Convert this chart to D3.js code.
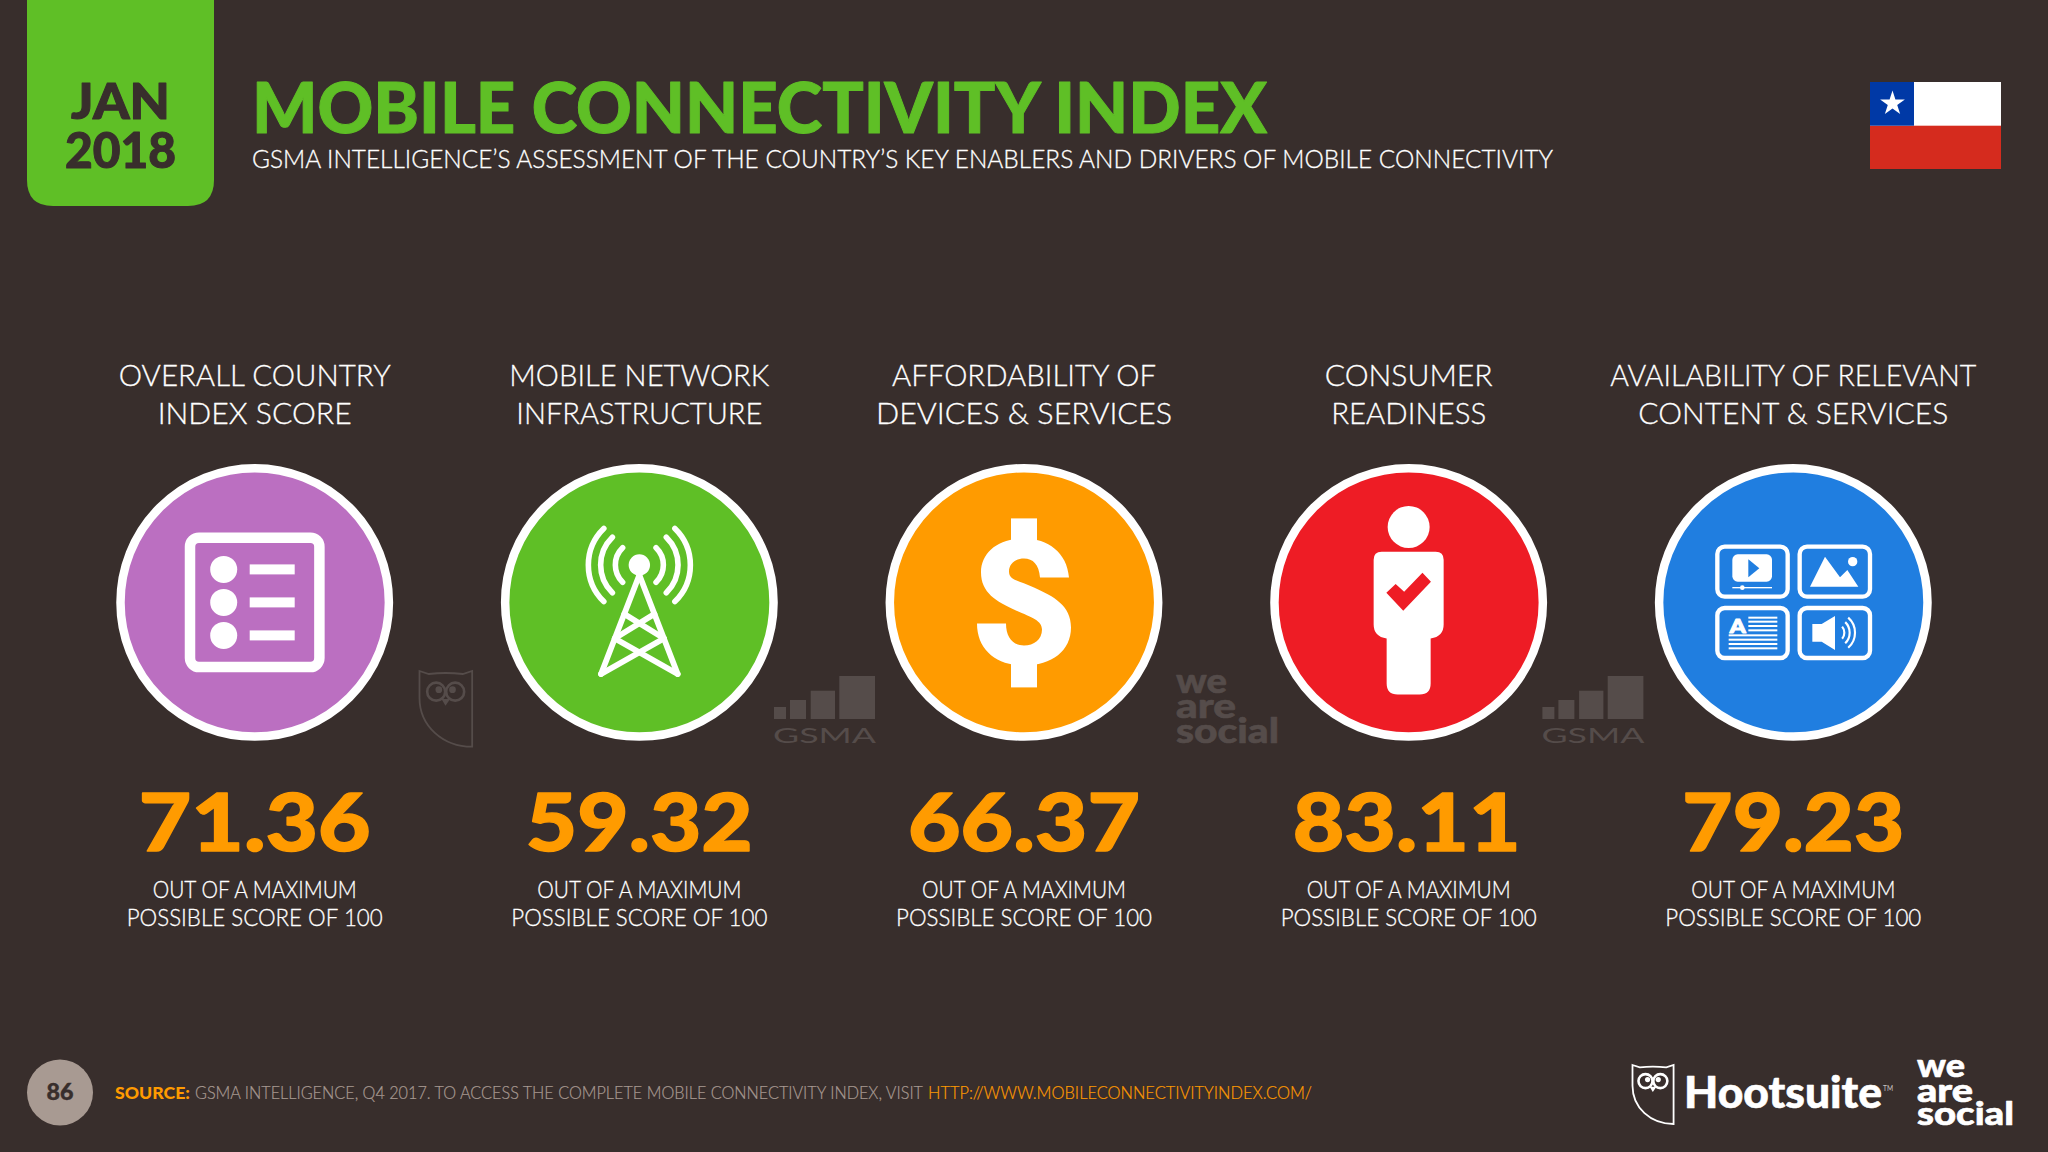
<!DOCTYPE html>
<html><head><meta charset="utf-8">
<script src="https://cdn.jsdelivr.net/npm/d3@7/dist/d3.min.js"></script>
<style>html,body{margin:0;padding:0;background:#382e2c}svg{display:block}text{font-family:Lato,sans-serif}</style>
</head><body><svg id="c" width="2048" height="1152"></svg>
<script>
const categories=["overall","network","afford","consumer","content"];
const headingLine1=["OVERALL COUNTRY","MOBILE NETWORK","AFFORDABILITY OF","CONSUMER","AVAILABILITY OF RELEVANT"];
const headingLine2=["INDEX SCORE","INFRASTRUCTURE","DEVICES & SERVICES","READINESS","CONTENT & SERVICES"];
const scores=[71.36,59.32,66.37,83.11,79.23];
const fills=["#bb6fc1","#5fbf26","#ff9b00","#ee1c25","#207ee0"];
const BG="#382e2c",ORANGE="#ff9b00",GREEN="#5fbf26",WM="#554c4a",GREY="#a89a92";
const svg=d3.select("#c");
svg.append("rect").attr("width",2048).attr("height",1152).attr("fill",BG);
const x=d3.scalePoint().domain(categories).range([254.7,1793.3]);
const color=d3.scaleOrdinal().domain(categories).range(fills);
const fmt=d3.format(".2f");
const CY=602.4;
function t(g,s,px,py,size,weight,fill,anchor,width,bold){
  const e=g.append("text").attr("x",px).attr("y",py).attr("font-size",size).attr("font-weight",weight).attr("fill",fill).attr("text-anchor",anchor||"start").text(s);
  if(width)e.attr("textLength",width).attr("lengthAdjust","spacingAndGlyphs");
  if(bold)e.attr("stroke",fill).attr("stroke-width",bold).attr("stroke-linejoin","round");
  return e;
}
// header
svg.append("path").attr("fill",GREEN).attr("d","M27,0H214V180Q214,206 188,206H53Q27,206 27,180Z");
t(svg,"JAN",120.5,119,50,900,BG,"middle",99,1);
t(svg,"2018",120.5,168,50,900,BG,"middle",111,1);
t(svg,"MOBILE CONNECTIVITY INDEX",252,133,70,900,GREEN,"start",1015,1);
t(svg,"GSMA INTELLIGENCE’S ASSESSMENT OF THE COUNTRY’S KEY ENABLERS AND DRIVERS OF MOBILE CONNECTIVITY",252,168,25,300,"#fff","start",1301,0.3);
// flag
const flag=svg.append("g");
flag.append("rect").attr("x",1870).attr("y",82).attr("width",131).attr("height",44).attr("fill","#fff");
flag.append("rect").attr("x",1870).attr("y",125.7).attr("width",131).attr("height",43.3).attr("fill","#d52b1e");
flag.append("rect").attr("x",1870).attr("y",82).attr("width",44).attr("height",43.7).attr("fill","#0039a6");
flag.append("path").attr("transform","translate(1892.5,103.5)").attr("fill","#fff").attr("d",d3.symbol(d3.symbolStar,190)());
// columns
const col=svg.selectAll("g.col").data(categories).join("g").attr("class","col");
col.append("circle").attr("cx",d=>x(d)).attr("cy",CY).attr("r",134.2).attr("fill",d=>color(d)).attr("stroke","#fff").attr("stroke-width",8.5);
const headW1=[272,260,264,168,366],headW2=[194,246,296,155,310];
const valueW=[232,227,232,228,222];
const valueShift=[0,0,0,-2,0];
const subW=[204,256];
col.each(function(d,i){
  const g=d3.select(this),px=x(d);
  t(g,headingLine1[i],px,385.5,30,300,"#fff","middle",headW1[i],0.3);
  t(g,headingLine2[i],px,423.5,30,300,"#fff","middle",headW2[i],0.3);
  t(g,fmt(scores[i]),px+valueShift[i],851,80,900,ORANGE,"middle",valueW[i],1.4);
  t(g,"OUT OF A MAXIMUM",px,898,24,300,"#fff","middle",subW[0],0.3);
  t(g,"POSSIBLE SCORE OF 100",px,925.5,24,300,"#fff","middle",subW[1],0.3);
});
function icon(i){return svg.append("g").attr("transform",`translate(${x(categories[i])},${CY})`);}
// 1 list
{const g=icon(0);
 g.append("rect").attr("x",-64.7).attr("y",-64.7).attr("width",129.4).attr("height",129.4).attr("rx",9).attr("fill","none").attr("stroke","#fff").attr("stroke-width",10.5);
 [-33,0,33].forEach(dy=>{g.append("circle").attr("cx",-31).attr("cy",dy).attr("r",13.5).attr("fill","#fff");
  g.append("rect").attr("x",-5).attr("y",dy-5).attr("width",45).attr("height",10).attr("fill","#fff");});
}
// 2 tower
{const g=icon(1);
 const cy=-37.4;
 g.append("circle").attr("cy",cy).attr("r",10.7).attr("fill","#fff");
 [24,38.7,51].forEach(r=>{[0,Math.PI].forEach(off=>{
   const p=d3.path();p.arc(0,0,r,off-0.8,off+0.8);
   g.append("path").attr("transform",`translate(0,${cy})`).attr("fill","none").attr("stroke","#fff").attr("stroke-width",5.6).attr("stroke-linecap","round").attr("d",p.toString());
 });});
 const line=d3.line();
 const half=y=>38.3*(y+27.4)/99;
 const L=y=>[-half(y),y],R=y=>[half(y),y];
 const seg=[[[0,-27.4],L(71.6)],[[0,-27.4],R(71.6)],
  [L(11.6),R(36)],[R(11.6),L(36)],
  [L(36),R(71.6)],[R(36),L(71.6)]];
 seg.forEach(s=>g.append("path").attr("d",line(s)).attr("fill","none").attr("stroke","#fff").attr("stroke-width",5.8).attr("stroke-linecap","round"));
}
// 3 dollar
{const g=icon(2);
 g.append("path").attr("fill","#fff").attr("d","M45,-25C43,-50 24,-64 0,-64C-26,-64 -43,-50 -43,-30C-43,-10 -28,-1 -8,8C8,15 18,18 18,27C18,37 10,43 0,43C-11,43 -18,35 -18,21L-47,21C-47,47 -28,63 0,63C28,63 47,48 47,25C47,3 30,-6 10,-15C-5,-22 -15,-22 -15,-31C-15,-39 -8,-44 0,-44C9,-44 15,-38 16,-25Z");
 g.append("rect").attr("x",-13).attr("y",-84).attr("width",26).attr("height",26).attr("fill","#fff");
 g.append("rect").attr("x",-13).attr("y",59).attr("width",26).attr("height",26).attr("fill","#fff");
}
// 4 person
{const g=icon(3);
 g.append("circle").attr("cy",-75.4).attr("r",21).attr("fill","#fff");
 g.append("path").attr("fill","#fff").attr("d","M-27,-50.7H27Q35,-50.7 35,-42.7V22Q35,34 22,36V81Q22,92 11,92H-11Q-22,92 -22,81V36Q-35,34 -35,22V-42.7Q-35,-50.7 -27,-50.7Z");
 g.append("path").attr("fill","#ee1c25").attr("d","M-22.3,-9.7L-13,-18.4L-4.5,-10.7L13.8,-29.7L22.3,-20.7L-5.4,8.3Z");
}
// 5 content (drawn in 3x local units)
{const g=svg.append("g").attr("transform",`translate(${x("content")-233.3},${CY-82.4}) scale(${1/3})`);
 [[465,73],[712,73],[465,257],[712,257]].forEach(b=>g.append("rect").attr("x",b[0]+7).attr("y",b[1]+7).attr("width",211).attr("height",150).attr("rx",22).attr("fill","none").attr("stroke","#fff").attr("stroke-width",13));
 g.append("rect").attr("x",517).attr("y",103).attr("width",119).attr("height",82).attr("rx",16).attr("fill","#fff");
 g.append("path").attr("d","M565,118L598,145L565,172Z").attr("fill","#207ee0");
 g.append("rect").attr("x",517).attr("y",201).attr("width",119).attr("height",4).attr("fill","#fff");
 g.append("circle").attr("cx",547).attr("cy",203).attr("r",7).attr("fill","#fff");
 g.append("path").attr("d","M750,200L795,110L840,172L862,150L895,200Z").attr("fill","#fff");
 g.append("circle").attr("cx",878).attr("cy",125).attr("r",14).attr("fill","#fff");
 t(g,"A",533,338,56,900,"#fff","middle",48,3);
 [293,305,318,331].forEach(y=>g.append("rect").attr("x",565).attr("y",y-3).attr("width",87).attr("height",6).attr("fill","#fff"));
 [346,359,372,385].forEach(y=>g.append("rect").attr("x",506).attr("y",y-3).attr("width",146).attr("height",6).attr("fill","#fff"));
 g.append("path").attr("d","M757,312H785L825,288V390L785,365H757Z").attr("fill","#fff");
 [[28,.7],[44,.8],[60,.85]].forEach(a=>{const p=d3.path();p.arc(825,338,a[0],-a[1],a[1]);g.append("path").attr("d",p.toString()).attr("fill","none").attr("stroke","#fff").attr("stroke-width",6.5);});
}
// logos
function owl(px,py,s,c){
 const g=svg.append("g").attr("transform",`translate(${px},${py}) scale(${s})`);
 g.append("path").attr("d","M0,0L28,9Q78,3 130,9L158,0V227C70,227 0,165 0,80Z").attr("fill","none").attr("stroke",c).attr("stroke-width",1.8/s);
 [50,107].forEach((cx,i)=>{g.append("circle").attr("cx",cx).attr("cy",62).attr("r",27).attr("fill","none").attr("stroke",c).attr("stroke-width",2.6/s);
  g.append("circle").attr("cx",cx+(i?-8:8)).attr("cy",56).attr("r",10).attr("fill",c);});
 g.append("path").attr("d","M66,84H92L78,104Z").attr("fill",c);
}
function gsma(dx){
 const g=svg.append("g").attr("transform",`translate(${dx},0)`).attr("fill",WM);
 [[774,12,707],[790,16,700],[810.7,24.3,690.7],[839.3,35.7,676]].forEach(b=>g.append("rect").attr("x",b[0]).attr("y",b[2]).attr("width",b[1]).attr("height",719-b[2]));
 t(g,"GSMA",773,743,21,400,WM,"start",103);
}
function was(px,y1,y2,y3,size,w1,w2,w3,c){
 t(svg,"we",px,y1,size,900,c,"start",w1,0.6);
 t(svg,"are",px,y2,size,900,c,"start",w2,0.6);
 t(svg,"social",px,y3,size,900,c,"start",w3,0.6);
}
owl(419.5,671,1/3,WM);
gsma(0);gsma(768.4);
was(1176,693,718,743,35,51,60,103,WM);
// footer
svg.append("circle").attr("cx",60).attr("cy",1092.5).attr("r",33).attr("fill",GREY);
t(svg,"86",60,1100,23,900,BG,"middle",27,0.4);
t(svg,"SOURCE:",115,1099,17.5,900,ORANGE,"start",75);
t(svg,"GSMA INTELLIGENCE, Q4 2017. TO ACCESS THE COMPLETE MOBILE CONNECTIVITY INDEX, VISIT",195,1099,17.5,300,GREY,"start",728,0.2);
t(svg,"HTTP://WWW.MOBILECONNECTIVITYINDEX.COM/",928,1099,17.5,300,ORANGE,"start",384,0.2);
owl(1632.5,1065,0.26,"#fff");
t(svg,"Hootsuite",1684,1108,44,900,"#fff","start",198,0.6);
t(svg,"TM",1883,1091,8,400,"#c9c4c2","start",10);
was(1917,1077,1102,1125,33,48,56,97,"#fff");
</script></body></html>
